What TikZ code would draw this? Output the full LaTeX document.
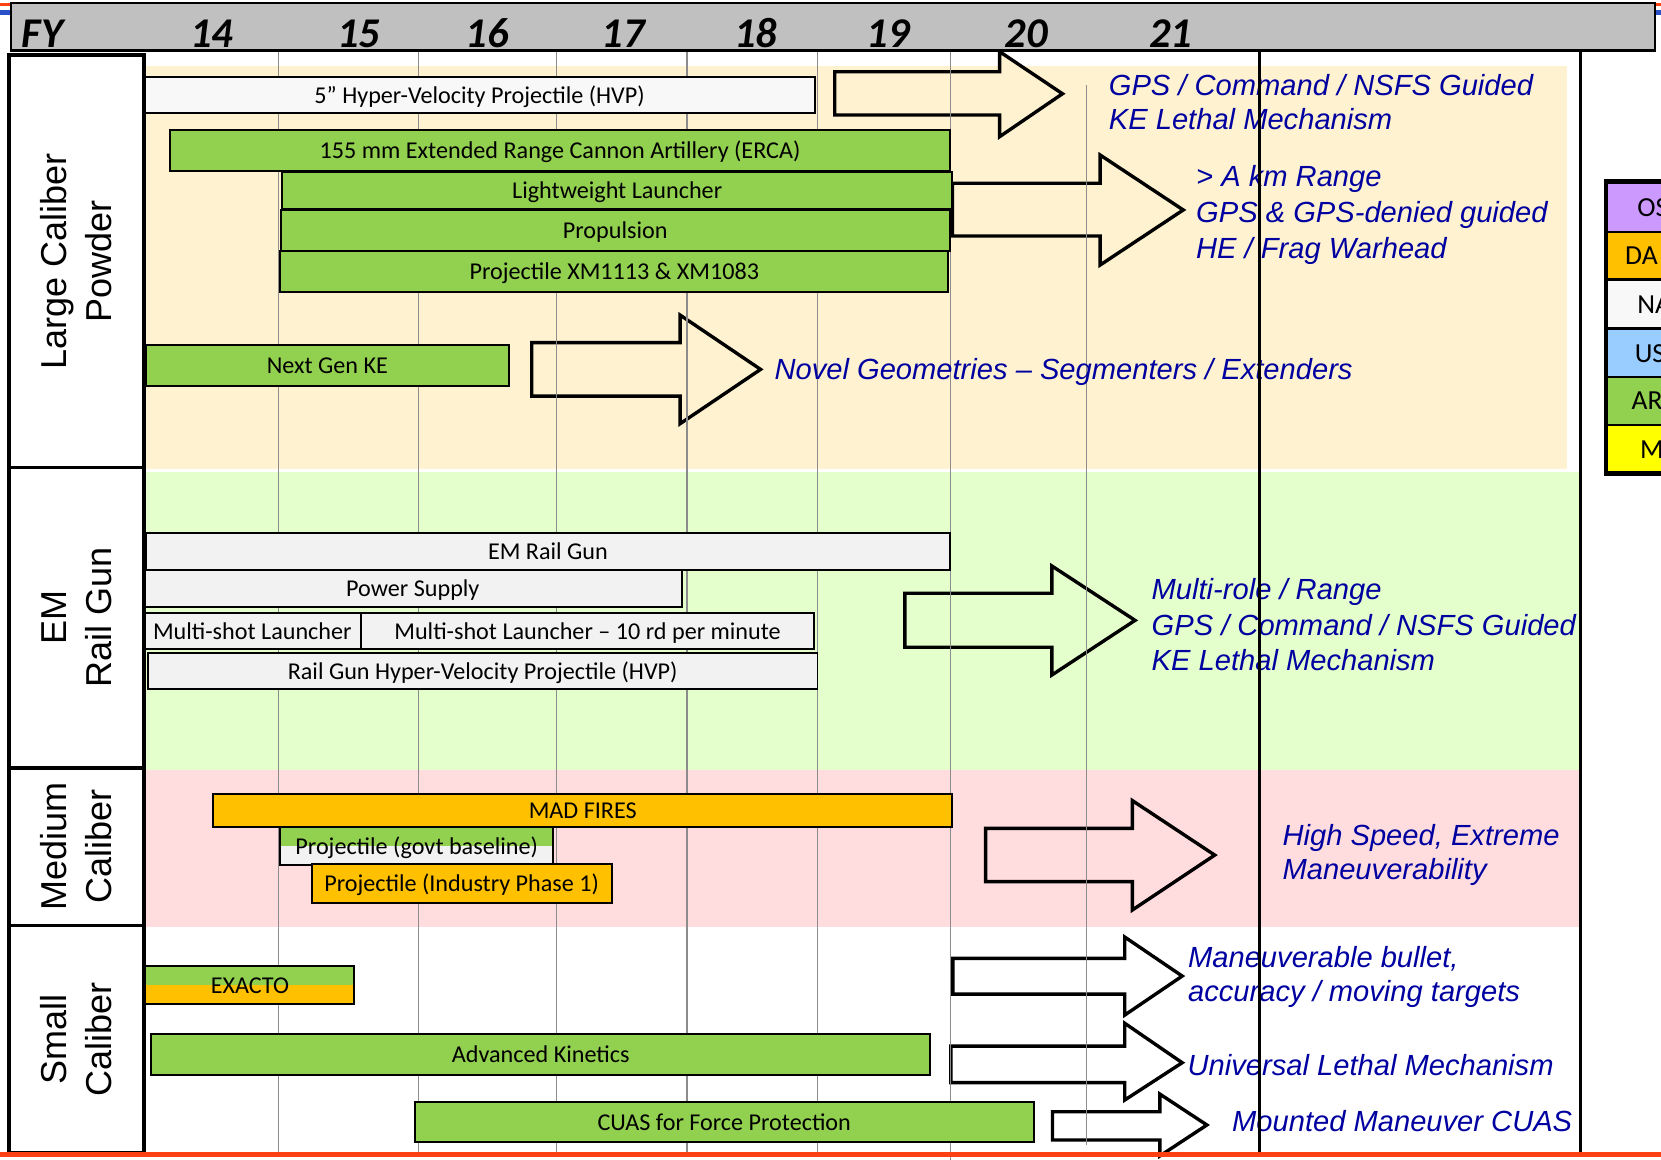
\documentclass[tikz,border=0pt]{standalone}
\usepackage{fontspec}
\setmainfont{Carlito}
\newfontfamily\arl{Liberation Sans}
\definecolor{cream}{RGB}{255,242,208}
\definecolor{lgreen}{RGB}{229,255,204}
\definecolor{lpink}{RGB}{255,221,223}
\definecolor{hdrgray}{RGB}{192,192,192}
\definecolor{bgreen}{HTML}{92D050}
\definecolor{borange}{HTML}{FFC000}
\definecolor{bgray}{HTML}{F2F2F2}
\definecolor{bwhite}{HTML}{F8F8F8}
\definecolor{lpurple}{HTML}{CC99FF}
\definecolor{lblue}{HTML}{99CCFF}
\definecolor{lyellow}{HTML}{FFFF00}
\definecolor{navytext}{RGB}{0,0,160}
\definecolor{redline}{RGB}{255,64,16}
\definecolor{blueline}{RGB}{40,80,200}
\definecolor{gridgray}{RGB}{140,140,140}
\newcommand\bx[7]{\node[#6, anchor=north west, minimum width={(#4)-(#2)}, minimum height={(#5)-(#3)}] (#1) at (#2,#3) {#7};}
\newcommand\blockarr[9]{\draw[blk, fill=#9] (#1,#2) -- (#4,#2) -- (#4,#5) -- (#7,#8) -- (#4,#6) -- (#4,#3) -- (#1,#3) -- cycle;}
\begin{document}
\begin{tikzpicture}[x=1pt,y=-1pt,
  barbox/.style={draw=black, line width=1.8pt, inner sep=0pt, outer sep=0pt, text=black, text height=19.5pt, text depth=4pt, font=\fontsize{22.8}{26}\selectfont},
  twotone/.style={path picture={\fill[#1] (path picture bounding box.west) rectangle (path picture bounding box.south east);}},
  catbox/.style={draw=black, line width=3pt, fill=white, rotate=90, align=center, inner sep=0pt, font=\arl\fontsize{34}{42.5}\selectfont},
  blk/.style={draw=black, line width=3.2pt, line join=miter},
  gridln/.style={draw=gridgray, line width=1.1pt},
  vline/.style={draw=black, line width=2.8pt},
  btext/.style={anchor=base west, inner sep=0pt, text=navytext, font=\arl\itshape\fontsize{27.5}{33}\selectfont},
  yr/.style={anchor=base, inner sep=0pt, font=\bfseries\itshape\fontsize{40}{42}\selectfont},
  legrow/.style={draw=black, line width=2.2pt, anchor=north west, minimum width=130pt, inner sep=0pt, outer sep=0pt},
  legtxt/.style={anchor=base west, inner sep=0pt, font=\fontsize{26}{30}\selectfont}
]
\useasboundingbox (0,0) rectangle (1568,1095);
\clip (0,0) rectangle (1568,1095);
% slide decoration stripes
\fill[redline] (0,3) rectangle (1568,5.7);
\fill[blueline] (0,9.5) rectangle (1568,14);
% bands
\fill[cream] (138,62) rectangle (1479,443);
\fill[lgreen] (138,445.5) rectangle (1492,727);
\fill[lpink] (138,727) rectangle (1492,875);
% block arrows
\blockarr{788}{67.7}{108.6}{943.7}{48.8}{129}{1003}{88.5}{cream}
\blockarr{899}{173}{222.8}{1038.5}{146.3}{250.2}{1117}{198.2}{cream}
\blockarr{502}{323.5}{374}{642}{297.4}{400}{718}{348.7}{cream}
\blockarr{854.2}{560}{611}{993}{534.3}{637.2}{1071.5}{585.6}{lgreen}
\blockarr{930.4}{782}{832.3}{1069}{755.8}{859}{1146.7}{807.2}{lpink}
\blockarr{899.5}{904.7}{938.4}{1061.8}{884.6}{958.2}{1116}{921.4}{white}
\blockarr{897.6}{987.5}{1022}{1061.8}{966}{1038.4}{1116}{1003.2}{white}
\blockarr{993.6}{1049.5}{1076.2}{1094.9}{1032.8}{1091.2}{1139.3}{1062}{white}
% grid lines
\foreach \gx in {262.6,394.7,525,648.5,771.5} {\draw[gridln] (\gx,46.5) -- (\gx,1088);}
\draw[gridln] (897.6,46.5) -- (897.6,1095);
\draw[gridln] (1025.9,80) -- (1025.9,1081);
% bars: large caliber
\bx{hvp}{136.5}{72.4}{769}{107}{barbox, fill=bwhite}{5” Hyper-Velocity Projectile (HVP)}
\bx{erca}{160.7}{122.7}{896.6}{161}{barbox, fill=bgreen}{155 mm Extended Range Cannon Artillery (ERCA)}
\bx{lwl}{266.5}{162}{898.8}{197.6}{barbox, fill=bgreen}{Lightweight Launcher}
\bx{prop}{265}{198.2}{896.6}{236.6}{barbox, fill=bgreen}{Propulsion}
\bx{projxm}{264.7}{237}{895}{275.4}{barbox, fill=bgreen}{Projectile XM1113 \& XM1083}
\bx{ngke}{137.5}{325.7}{480.5}{364}{barbox, fill=bgreen}{Next Gen KE}
% EM rail gun
\bx{emrg}{137.5}{502.9}{897}{538}{barbox, fill=bgray}{EM Rail Gun}
\bx{pwr}{135.4}{538}{644}{573.3}{barbox, fill=bgray}{Power Supply}
\bx{msla}{135.4}{578.4}{341}{613}{barbox, fill=bgray}{Multi-shot Launcher}
\bx{mslb}{341}{578.4}{768.4}{613}{barbox, fill=bgray}{Multi-shot Launcher – 10 rd per minute}
\bx{rghvp}{139.6}{616.1}{771.7}{650.7}{barbox, fill=bgray}{Rail Gun Hyper-Velocity Projectile (HVP)}
% medium caliber
\bx{mad}{201.4}{749.6}{898.9}{780.4}{barbox, fill=borange}{MAD FIRES}
\bx{pgb}{264.3}{781}{522.4}{816.6}{barbox, fill=bgreen, twotone=bgray}{Projectile (govt baseline)}
\bx{pip}{294.2}{816}{577.4}{852.2}{barbox, fill=borange}{Projectile (Industry Phase 1)}
% small caliber
\bx{exacto}{137.3}{912}{334.6}{948}{barbox, fill=bgreen, twotone=borange}{EXACTO}
\bx{ak}{142.6}{976}{878.3}{1014.8}{barbox, fill=bgreen}{Advanced Kinetics}
\bx{cuas}{391.6}{1040.3}{975.7}{1078.4}{barbox, fill=bgreen}{CUAS for Force Protection}
% category column
\node[catbox, minimum width=389pt, minimum height=127.5pt] (lcp) at (72.25,246.5) {Large Caliber\\Powder};
\node[catbox, minimum width=284pt, minimum height=127.5pt] (emr) at (72.25,583) {EM\\Rail Gun};
\node[catbox, minimum width=149pt, minimum height=127.5pt] (medc) at (72.25,799.5) {Medium\\Caliber};
\node[catbox, minimum width=214pt, minimum height=127.5pt] (smc) at (72.25,981) {Small\\Caliber};
% header
\node[draw=black, line width=2.2pt, fill=hdrgray, anchor=north west, minimum width=1552pt, minimum height=45pt, inner sep=0pt] (hdr) at (9,1.5) {};
\node[yr] (fy) at (40,45) {FY};
\node[yr] (y14) at (199.9,45) {14};
\node[yr] (y15) at (338.6,45) {15};
\node[yr] (y16) at (459.8,45) {16};
\node[yr] (y17) at (588.4,45) {17};
\node[yr] (y18) at (713.4,45) {18};
\node[yr] (y19) at (838.6,45) {19};
\node[yr] (y20) at (968.6,45) {20};
\node[yr] (y21) at (1105,45) {21};
% outcome texts
\node[btext] (t1a) at (1046.6,89.7) {GPS / Command / NSFS Guided};
\node[btext] (t1b) at (1046.6,122.7) {KE Lethal Mechanism};
\node[btext] (t2a) at (1129,176.2) {> A km Range};
\node[btext] (t2b) at (1129,210.2) {GPS \& GPS-denied guided};
\node[btext] (t2c) at (1129,243.9) {HE / Frag Warhead};
\node[btext] (t3) at (731,358.7) {Novel Geometries – Segmenters / Extenders};
\node[btext] (t4a) at (1087,565.8) {Multi-role / Range};
\node[btext] (t4b) at (1087,599.5) {GPS / Command / NSFS Guided};
\node[btext] (t4c) at (1087,633.1) {KE Lethal Mechanism};
\node[btext] (t5a) at (1210.6,797.7) {High Speed, Extreme};
\node[btext] (t5b) at (1210.6,830.7) {Maneuverability};
\node[btext] (t6a) at (1121.4,913.5) {Maneuverable bullet,};
\node[btext] (t6b) at (1121.4,945.8) {accuracy / moving targets};
\node[btext] (t7) at (1121,1014.8) {Universal Lethal Mechanism};
\node[btext] (t8) at (1163,1068.3) {Mounted Maneuver CUAS};
% black vertical lines
\draw[vline] (1189,46.5) -- (1189,1088);
\draw[vline] (1492,46.5) -- (1492,1088);
% legend (cut off by the right edge, as in the original)
\node[legrow, fill=lpurple, minimum height=47.2pt] (lg1) at (1516,171.5) {};
\node[legrow, fill=borange, minimum height=45pt] (lg2) at (1516,218.7) {};
\node[legrow, fill=bwhite, minimum height=46.3pt] (lg3) at (1516,263.7) {};
\node[legrow, fill=lblue, minimum height=45.6pt] (lg4) at (1516,310) {};
\node[legrow, fill=bgreen, minimum height=45.6pt] (lg5) at (1516,355.6) {};
\node[legrow, fill=lyellow, minimum height=45.6pt] (lg6) at (1516,401.2) {};
\draw[line width=4.5pt] (lg1.north west) rectangle (lg6.south east);
\node[legtxt] (lt1) at (1545.5,204) {OS};
\node[legtxt] (lt2) at (1534,250) {DA};
\node[legtxt] (lt3) at (1545.5,296) {NA};
\node[legtxt] (lt4) at (1543,342) {US};
\node[legtxt] (lt5) at (1540,387) {AR};
\node[legtxt] (lt6) at (1548,433) {M};
% bottom red line
\fill[redline] (0,1087.2) rectangle (1568,1092.5);
\end{tikzpicture}
\end{document}
